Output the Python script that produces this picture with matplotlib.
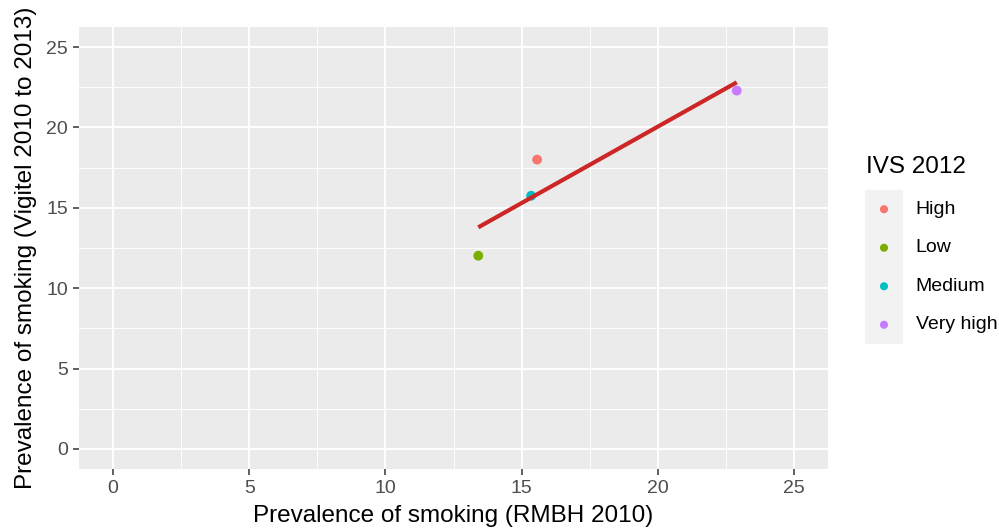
import numpy as np
import matplotlib
matplotlib.use('Agg')
import matplotlib.pyplot as plt

plt.rcParams['font.family'] = ['Liberation Sans', 'DejaVu Sans']

# data
groups = ['High', 'Low', 'Medium', 'Very high']
rmbh_2010 = [15.57, 13.41, 15.35, 22.90]
vigitel = [18.00, 12.02, 15.75, 22.29]
colors = ['#F8766D', '#7CAE00', '#00BFC4', '#C77CFF']

x_ticks = [0, 5, 10, 15, 20, 25]
y_ticks = [0, 5, 10, 15, 20, 25]

W, H = 999, 531
fig = plt.figure(figsize=(W / 100, H / 100), dpi=100)

# panel placement in pixels
px_l, px_r, px_t, px_b = 79, 828, 27, 469
ax = fig.add_axes([px_l / W, 1 - px_b / H, (px_r - px_l) / W, (px_b - px_t) / H])
ax.set_facecolor('#EBEBEB')
for s in ax.spines.values():
    s.set_visible(False)

ax.set_xlim(-1.25, 26.25)
ax.set_ylim(-1.25, 26.25)
ax.set_xticks(x_ticks)
ax.set_yticks(y_ticks)
ax.set_xticks([2.5, 7.5, 12.5, 17.5, 22.5], minor=True)
ax.set_yticks([2.5, 7.5, 12.5, 17.5, 22.5], minor=True)
ax.grid(which='major', color='white', linewidth=1.4)
ax.grid(which='minor', color='white', linewidth=0.7)
ax.set_axisbelow(True)
ax.tick_params(which='major', length=4.4, width=1.1, color='#333333',
               labelcolor='#4D4D4D', labelsize=14, pad=3.5)
ax.tick_params(which='minor', length=0)

# points
for g, xv, yv, c in zip(groups, rmbh_2010, vigitel, colors):
    ax.scatter(xv, yv, s=50, color=c, edgecolors='none', zorder=3)

# linear fit (geom_smooth method = lm)
slope, inter = np.polyfit(rmbh_2010, vigitel, 1)
xs = np.array([min(rmbh_2010), max(rmbh_2010)])
ax.plot(xs, slope * xs + inter, color='#CD2626', linewidth=3.0, zorder=4,
        solid_capstyle='butt')

ax.set_xlabel('Prevalence of smoking (RMBH 2010)', fontsize=17.5, color='black')
ax.set_ylabel('Prevalence of smoking (Vigitel 2010 to 2013)', fontsize=17.5, color='black')
ax.xaxis.set_label_coords(0.5, (px_b - 505) / (px_b - px_t))
ax.yaxis.set_label_coords((37 - px_l) / (px_r - px_l), 0.5)

# legend
lk_l, lk_r, lk_t, lk_b = 865, 903, 190, 344
lax = fig.add_axes([lk_l / W, 1 - lk_b / H, (lk_r - lk_l) / W, (lk_b - lk_t) / H])
lax.set_facecolor('#F2F2F2')
for s in lax.spines.values():
    s.set_visible(False)
lax.set_xticks([])
lax.set_yticks([])
lax.set_xlim(0, 1)
lax.set_ylim(len(groups) - 0.5, -0.5)
for i, (g, c) in enumerate(zip(groups, colors)):
    lax.scatter(0.5, i, s=34, color=c, edgecolors='none')
    lax.text(1.33, i, g, fontsize=14, va='center', ha='left', color='black',
             transform=lax.transData, clip_on=False)
fig.text(866 / W, 1 - 167 / H, 'IVS 2012', fontsize=17.5, va='center', ha='left')

fig.savefig('out.png', dpi=100)
